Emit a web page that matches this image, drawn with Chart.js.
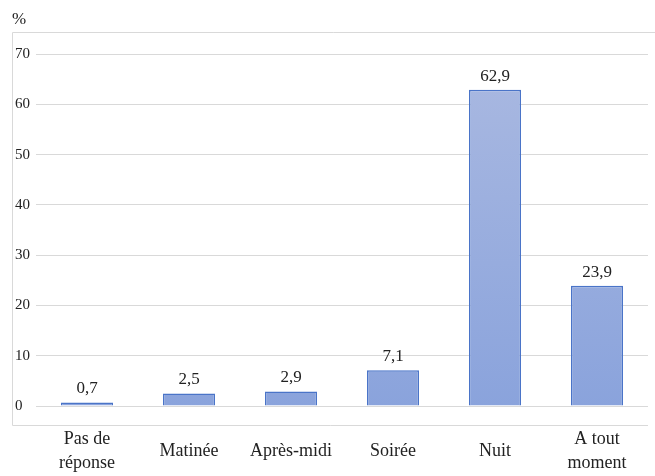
<!DOCTYPE html>
<html>
<head>
<meta charset="utf-8">
<script src="https://cdn.jsdelivr.net/npm/chart.js@4/dist/chart.umd.min.js"></script>
<style>
  html, body { margin: 0; padding: 0; background: #fff; overflow: hidden; }
  canvas { display: block; }
</style>
</head>
<body>
<canvas id="chart" width="655" height="476" style="width:655px;height:476px"></canvas>
<script>
const categories = [['Pas de', 'réponse'], 'Matinée', 'Après-midi', 'Soirée', 'Nuit', ['A tout', 'moment']];
const values = [0.7, 2.5, 2.9, 7.1, 62.9, 23.9];
const valueLabels = ['0,7', '2,5', '2,9', '7,1', '62,9', '23,9'];
const yTicks = [0, 10, 20, 30, 40, 50, 60, 70];

const serif = '"Liberation Serif", "DejaVu Serif", serif';

// box around the plot, "%" unit and value labels
const decor = {
    id: 'decor',
    beforeDraw(chart) {
        const ctx = chart.ctx;
        ctx.save();
        ctx.strokeStyle = '#d9d9d9';
        ctx.lineWidth = 1;
        ctx.beginPath();
        ctx.moveTo(chart.width, 32.5);
        ctx.lineTo(12.5, 32.5);
        ctx.lineTo(12.5, 425.5);
        ctx.lineTo(chart.chartArea.right, 425.5);
        ctx.stroke();
        ctx.fillStyle = '#222';
        ctx.font = '17px ' + serif;
        ctx.textBaseline = 'middle';
        ctx.fillText('%', 12, 20);
        ctx.restore();
    },
    afterDatasetsDraw(chart) {
        const ctx = chart.ctx;
        const meta = chart.getDatasetMeta(0);
        ctx.save();
        ctx.fillStyle = '#222';
        ctx.font = '17px ' + serif;
        ctx.textAlign = 'center';
        ctx.textBaseline = 'bottom';
        meta.data.forEach((bar, i) => {
            ctx.fillText(valueLabels[i], bar.x, bar.y - 5);
        });
        ctx.restore();
    }
};

const barFill = (context) => {
    const area = context.chart.chartArea;
    if (!area) return '#9db0de';
    const g = context.chart.ctx.createLinearGradient(0, area.top, 0, area.bottom);
    g.addColorStop(0, '#aab9e1');
    g.addColorStop(1, '#8aa3dc');
    return g;
};

new Chart(document.getElementById('chart'), {
    type: 'bar',
    data: {
        labels: categories,
        datasets: [{
            data: values,
            backgroundColor: barFill,
            borderColor: '#4a74c8',
            borderWidth: 1.5,
            barPercentage: 0.51,
            categoryPercentage: 1
        }]
    },
    options: {
        responsive: false,
        animation: false,
        layout: { padding: { top: 54, left: 15, right: 7, bottom: 3 } },
        plugins: {
            legend: { display: false },
            tooltip: { enabled: false }
        },
        scales: {
            x: {
                grid: { display: false, drawTicks: false },
                border: { display: false },
                afterFit: (axis) => {
                    axis.height = 67;
                    axis.paddingLeft = 0;
                    axis.paddingRight = 0;
                },
                ticks: {
                    color: '#222',
                    font: { family: serif, size: 18, lineHeight: 1.35 },
                    padding: 33,
                    maxRotation: 0,
                    crossAlign: 'center'
                }
            },
            y: {
                min: 0,
                max: 70,
                afterBuildTicks: (axis) => { axis.ticks = yTicks.map(v => ({ value: v })); },
                grid: { color: '#d9d9d9', drawTicks: false },
                border: { display: false },
                ticks: {
                    color: '#222',
                    font: { family: serif, size: 15 },
                    padding: 3,
                    crossAlign: 'far'
                }
            }
        }
    },
    plugins: [decor]
});
</script>
</body>
</html>
